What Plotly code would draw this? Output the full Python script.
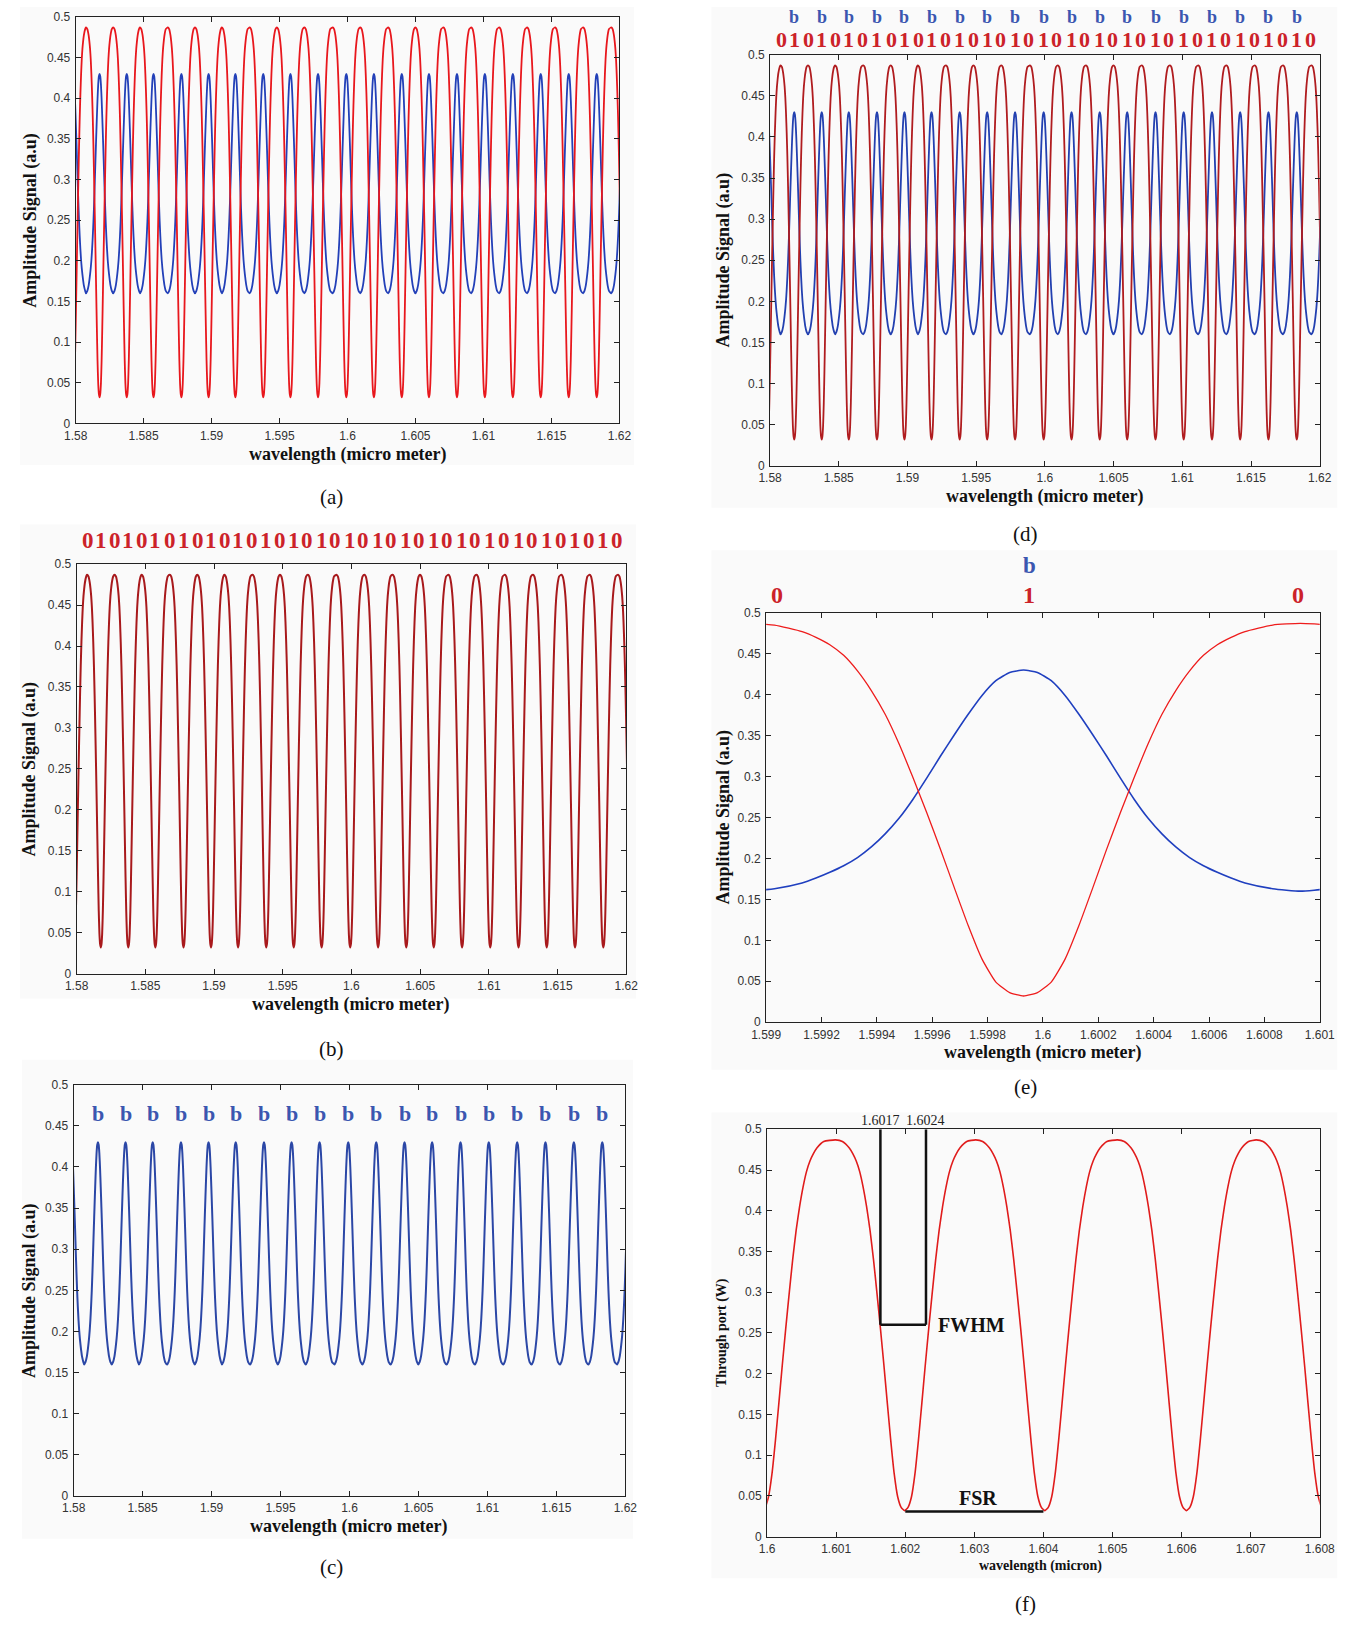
import plotly.graph_objects as go

W, H = 1367, 1626

# ---------------- data ----------------
# One resonance period (offset from the resonance, micrometre)
PROFILE_OFFSET = [-0.0010, -0.0009, -0.0008, -0.00075, -0.0007, -0.00065, -0.0006, -0.00055,
                  -0.0005, -0.00045, -0.0004, -0.00035, -0.0003, -0.00025, -0.0002, -0.00015,
                  -0.0001, -0.00005, 0.0, 0.00005, 0.0001, 0.00015, 0.0002, 0.00025, 0.0003,
                  0.00035, 0.0004, 0.00045, 0.0005, 0.00055, 0.0006, 0.00065, 0.0007, 0.00075,
                  0.0008, 0.0009, 0.0010]
THROUGH_PORT = [0.487, 0.485, 0.477, 0.470, 0.461, 0.448, 0.429, 0.405,
                0.376, 0.340, 0.299, 0.256, 0.211, 0.164, 0.118, 0.077,
                0.049, 0.036, 0.032, 0.036, 0.049, 0.077, 0.118, 0.164, 0.211,
                0.256, 0.299, 0.340, 0.376, 0.405, 0.429, 0.448, 0.461, 0.470,
                0.477, 0.485, 0.487]
DROP_PORT = [0.160, 0.163, 0.170, 0.176, 0.183, 0.191, 0.201, 0.214,
             0.230, 0.249, 0.272, 0.298, 0.325, 0.351, 0.376, 0.399,
             0.417, 0.427, 0.430, 0.427, 0.417, 0.399, 0.376, 0.351, 0.325,
             0.298, 0.272, 0.249, 0.230, 0.214, 0.201, 0.191, 0.183, 0.176,
             0.170, 0.163, 0.160]

# Resonance wavelengths (through-port dip / drop-port peak)
SCAN_DIPS = [1.57980, 1.58176, 1.58376, 1.58573, 1.58778, 1.58978, 1.59175,
             1.59380, 1.59580, 1.59783, 1.59991, 1.60194, 1.60399, 1.60599,
             1.60805, 1.61010, 1.61216, 1.61421, 1.61627, 1.61833, 1.62040]
SCAN_PEAKS = [1.58082, 1.58279, 1.58476, 1.58676, 1.58881, 1.59078, 1.59278,
              1.59477, 1.59680, 1.59879, 1.60085, 1.60291, 1.60490, 1.60696,
              1.60901, 1.61107, 1.61312, 1.61524, 1.61730, 1.61935]
E_DIPS = [1.59793, 1.59993, 1.60193]
F_DIPS = [1.59992, 1.60199, 1.60402, 1.60607, 1.60808]

SCAN_XTICKS = [1.58, 1.585, 1.59, 1.595, 1.6, 1.605, 1.61, 1.615, 1.62]
SCAN_XTICK_TEXT = ["1.58", "1.585", "1.59", "1.595", "1.6", "1.605", "1.61", "1.615", "1.62"]
E_XTICKS = [1.599, 1.5992, 1.5994, 1.5996, 1.5998, 1.6, 1.6002, 1.6004, 1.6006, 1.6008, 1.601]
E_XTICK_TEXT = ["1.599", "1.5992", "1.5994", "1.5996", "1.5998", "1.6", "1.6002",
                "1.6004", "1.6006", "1.6008", "1.601"]
F_XTICKS = [1.600, 1.601, 1.602, 1.603, 1.604, 1.605, 1.606, 1.607, 1.608]
F_XTICK_TEXT = ["1.6", "1.601", "1.602", "1.603", "1.604", "1.605", "1.606", "1.607", "1.608"]
Y_TICKS = [0, 0.05, 0.1, 0.15, 0.2, 0.25, 0.3, 0.35, 0.4, 0.45, 0.5]
Y_TICK_TEXT = ["0", "0.05", "0.1", "0.15", "0.2", "0.25", "0.3", "0.35", "0.4", "0.45", "0.5"]

E_BIT_WL = [1.59904, 1.59995, 1.60092]
E_BITS = ["0", "1", "0"]
E_B_WL = 1.59995

FWHM_WL = [1.60164, 1.60230]
FWHM_LABELS = ["1.6017", "1.6024"]
FWHM_LEVEL = 0.26
FSR_WL = [1.6020, 1.6040]
FSR_LEVEL = 0.031
B_LEVEL_C = 0.465

# ---------------- helpers ----------------
def px(x):
    return x / W


def py(y):
    return 1 - y / H


def tile(dips, vals):
    xs, ys = [], []
    for d in dips:
        for o, v in zip(PROFILE_OFFSET[:-1], vals[:-1]):
            xs.append(round(d + o, 6))
            ys.append(v)
    return xs, ys


SERIF = "Liberation Serif, Times New Roman, serif"
SANS = "Liberation Sans, Arial, sans-serif"
RED_TXT = "#cc2229"
BLUE_TXT = "#3b56b0"

# plot boxes in pixels: left, right, top, bottom
BOX = {
    1: (62, 618, 10, 420),
    2: (63, 625, 562, 975),
    3: (60, 624, 1087, 1502),
    4: (772, 1334, 48, 463),
    5: (768, 1334, 611, 1024),
    6: (769, 1334, 1132, 1543),
}

fig = go.Figure()


def add_line(i, xs, ys, color, width):
    fig.add_trace(go.Scatter(
        x=xs, y=ys, mode="lines",
        line=dict(color=color, width=width, shape="spline", smoothing=0.5),
        xaxis="x" if i == 1 else f"x{i}", yaxis="y" if i == 1 else f"y{i}",
        hoverinfo="skip", showlegend=False))


sx_t, sy_t = tile(SCAN_DIPS, THROUGH_PORT)
sx_d, sy_d = tile(SCAN_DIPS, DROP_PORT)
ex_t, ey_t = tile(E_DIPS, THROUGH_PORT)
ex_d, ey_d = tile(E_DIPS, DROP_PORT)
fx, fy = tile(F_DIPS, THROUGH_PORT)

# (a)
add_line(1, sx_d, sy_d, "#2340b8", 1.8)
add_line(1, sx_t, sy_t, "#e8171d", 1.8)
# (b)
add_line(2, sx_t, sy_t, "#a8191c", 2.0)
# (c)
add_line(3, sx_d, sy_d, "#2b47a6", 2.0)
# (d)
add_line(4, sx_d, sy_d, "#2340b0", 1.8)
add_line(4, sx_t, sy_t, "#b01c1f", 1.8)
# (e)
add_line(5, ex_d, ey_d, "#1f3fbf", 1.6)
add_line(5, ex_t, ey_t, "#ee1c1c", 1.3)
# (f)
add_line(6, fx, fy, "#e01c1c", 1.6)

layout = dict(
    width=W, height=H, margin=dict(l=0, r=0, t=0, b=0),
    paper_bgcolor="white", plot_bgcolor="rgba(0,0,0,0)", showlegend=False,
)

XT = {1: (SCAN_XTICKS, SCAN_XTICK_TEXT, [1.58, 1.62]),
      2: (SCAN_XTICKS, SCAN_XTICK_TEXT, [1.58, 1.62]),
      3: (SCAN_XTICKS, SCAN_XTICK_TEXT, [1.58, 1.62]),
      4: (SCAN_XTICKS, SCAN_XTICK_TEXT, [1.58, 1.62]),
      5: (E_XTICKS, E_XTICK_TEXT, [1.599, 1.601]),
      6: (F_XTICKS, F_XTICK_TEXT, [1.600, 1.608])}

for i, (l, r, t, b) in BOX.items():
    common = dict(showline=True, linecolor="#222", linewidth=1, mirror="ticks",
                  ticks="inside", ticklen=5, tickcolor="#222", showgrid=False,
                  zeroline=False, tickfont=dict(family=SANS, size=12, color="#333"))
    tv, tt, rng = XT[i]
    xa = dict(common, domain=[px(l), px(r)], range=rng, tickvals=tv, ticktext=tt,
              anchor="y" if i == 1 else f"y{i}", ticklabelstandoff=1)
    ya = dict(common, domain=[py(b), py(t)], range=[0, 0.5], tickvals=Y_TICKS,
              ticktext=Y_TICK_TEXT, anchor="x" if i == 1 else f"x{i}", ticklabelstandoff=2)
    layout["xaxis" if i == 1 else f"xaxis{i}"] = xa
    layout["yaxis" if i == 1 else f"yaxis{i}"] = ya

fig.update_layout(**layout)

# faint scan-background patches
for (x0, x1, y0, y1) in [(5, 633, 0, 462), (5, 635, 522, 1000), (7, 632, 1062, 1545),
                         (712, 1352, 0, 505), (712, 1352, 548, 1072), (712, 1352, 1115, 1585)]:
    fig.add_shape(type="rect", xref="paper", yref="paper", x0=px(x0), x1=px(x1),
                  y0=py(y1), y1=py(y0), fillcolor="#fafafa", line=dict(width=0),
                  layer="below")

ann = []


def text(x, y, s, size, color="#111", bold=False, family=SERIF, angle=0,
         xref="paper", yref="paper", xanchor="center", yanchor="middle"):
    ann.append(dict(x=x, y=y, xref=xref, yref=yref, text=f"<b>{s}</b>" if bold else s,
                    showarrow=False, textangle=angle, xanchor=xanchor, yanchor=yanchor,
                    font=dict(family=family, size=size, color=color)))


# axis titles
for i, (l, r, t, b) in BOX.items():
    if i == 6:
        text(px((l + r) / 2 - 3), py(b + 30), "wavelength (micron)", 14, bold=True)
        text(px(723), py((t + b) / 2), "Through port (W)", 14, bold=True, angle=-90)
    else:
        text(px((l + r) / 2), py(b + 31), "wavelength (micro meter)", 18, bold=True)
        ytx = 15 if i <= 3 else 724
        text(px(ytx), py((t + b) / 2), "Amplitude Signal (a.u)", 18, bold=True, angle=-90)

# panel labels
for lab, x, y in [("(a)", 324, 494), ("(b)", 324, 1051), ("(c)", 324, 1574),
                  ("(d)", 1033, 532), ("(e)", 1033, 1089), ("(f)", 1033, 1611)]:
    text(px(x), py(y), lab, 21, color="#111")

# bit sequences over panels (b) and (d)
bits = sorted([(p, "0") for p in SCAN_PEAKS] +
              [(d, "1") for d in SCAN_DIPS if 1.58 < d < 1.62])
for wl, s in bits:
    text(wl, py(538), s, 23, color=RED_TXT, bold=True, xref="x2")
    text(wl, py(33), s, 22, color=RED_TXT, bold=True, xref="x4")

# b markers over drop-port peaks in (c) and (d)
for d in SCAN_DIPS:
    if 1.58 < d < 1.62:
        text(d, B_LEVEL_C, "b", 22, color=BLUE_TXT, bold=True, xref="x3", yref="y3")
        text(d, py(10), "b", 18, color=BLUE_TXT, bold=True, xref="x4")

# panel (e) markers
text(E_B_WL, py(563), "b", 23, color=BLUE_TXT, bold=True, xref="x5")
for wl, s in zip(E_BIT_WL, E_BITS):
    text(wl, py(593), s, 24, color=RED_TXT, bold=True, xref="x5")

# panel (f) FWHM / FSR annotation
for wl in FWHM_WL:
    fig.add_shape(type="line", xref="x6", yref="y6", x0=wl, x1=wl, y0=FWHM_LEVEL, y1=0.5,
                  line=dict(color="#111", width=2.5))
fig.add_shape(type="line", xref="x6", yref="y6", x0=FWHM_WL[0], x1=FWHM_WL[1],
              y0=FWHM_LEVEL, y1=FWHM_LEVEL, line=dict(color="#111", width=2.5))
fig.add_shape(type="line", xref="x6", yref="y6", x0=FSR_WL[0], x1=FSR_WL[1],
              y0=FSR_LEVEL, y1=FSR_LEVEL, line=dict(color="#111", width=2.5))
for wl, s in zip(FWHM_WL, FWHM_LABELS):
    text(wl, py(1123), s, 14, color="#222", xref="x6")
text(FWHM_WL[1] + 0.00014, FWHM_LEVEL, "FWHM", 20, color="#111", bold=True,
     xref="x6", yref="y6", xanchor="left")
text((FSR_WL[0] + FSR_WL[1]) / 2 + 0.00005, 0.048, "FSR", 20, color="#111", bold=True,
     xref="x6", yref="y6")

fig.update_layout(annotations=ann)
fig.write_html("out.html")
